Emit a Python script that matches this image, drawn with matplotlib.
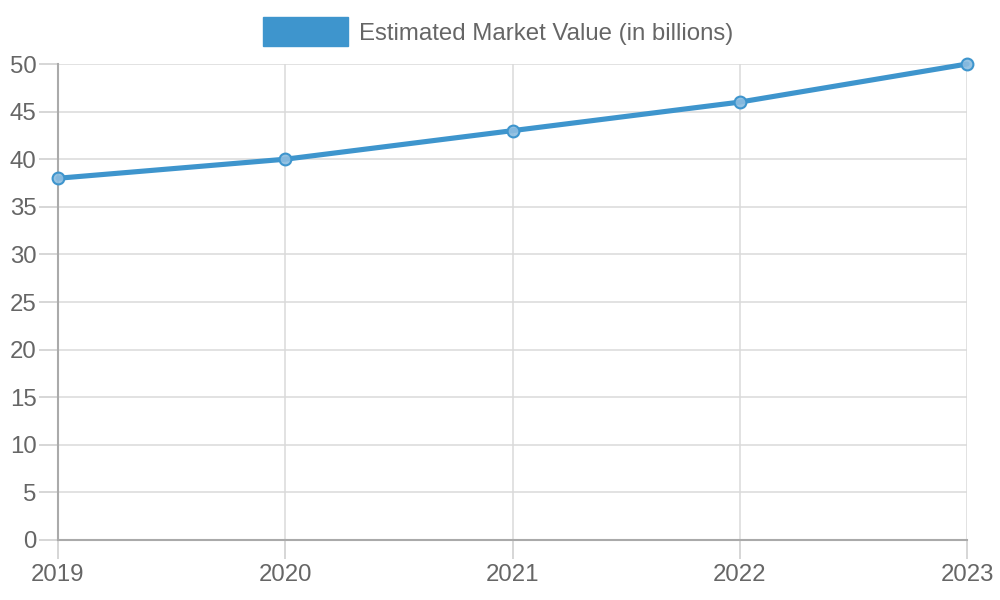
import matplotlib
matplotlib.use("Agg")
import matplotlib.pyplot as plt
from matplotlib.patches import Patch

years = ["2019", "2020", "2021", "2022", "2023"]
values = [38, 40, 43, 46, 50]
series_label = "Estimated Market Value (in billions)"
y_ticks = [0, 5, 10, 15, 20, 25, 30, 35, 40, 45, 50]

plt.rcParams['font.family'] = ['Liberation Sans', 'DejaVu Sans']
line_color = "#3e95cd"
text_color = "#666666"
fs = 17.3

fig = plt.figure(figsize=(10, 6), dpi=100)
ax = fig.add_axes([0.058, 0.1, 0.909, 0.7933])

x = list(range(len(years)))
ax.plot(x, values, color=line_color, linewidth=3.7, solid_capstyle="round",
        zorder=3, clip_on=False)
ax.plot(x, values, linestyle="none", marker="o", markersize=8.5,
        markerfacecolor=(0.55, 0.74, 0.88, 0.9), markeredgecolor=line_color,
        markeredgewidth=1.5, zorder=4, clip_on=False)

ax.set_xlim(0, len(years) - 1)
ax.set_ylim(0, 50)
ax.set_xticks(x)
ax.set_xticklabels(years)
ax.set_yticks(y_ticks)

ax.grid(True, color="#dadada", linewidth=1.1)
ax.set_axisbelow(True)
for s in ["top", "right"]:
    ax.spines[s].set_visible(False)
for s in ["left", "bottom"]:
    ax.spines[s].set_color("#aaaaaa")
    ax.spines[s].set_linewidth(1.5)

ax.tick_params(axis="both", colors="#cccccc", labelcolor=text_color,
               labelsize=fs, length=14, width=1.1)
ax.tick_params(axis="y", pad=1.5)
ax.tick_params(axis="x", pad=3)

handle = Patch(facecolor=line_color, edgecolor=line_color)
leg = fig.legend([handle], [series_label], loc="center",
                 bbox_to_anchor=(0.498, 0.947), frameon=False,
                 fontsize=fs, handlelength=3.55, handleheight=1.5,
                 handletextpad=0.42, labelcolor=text_color)

fig.savefig("out.png", dpi=100)
